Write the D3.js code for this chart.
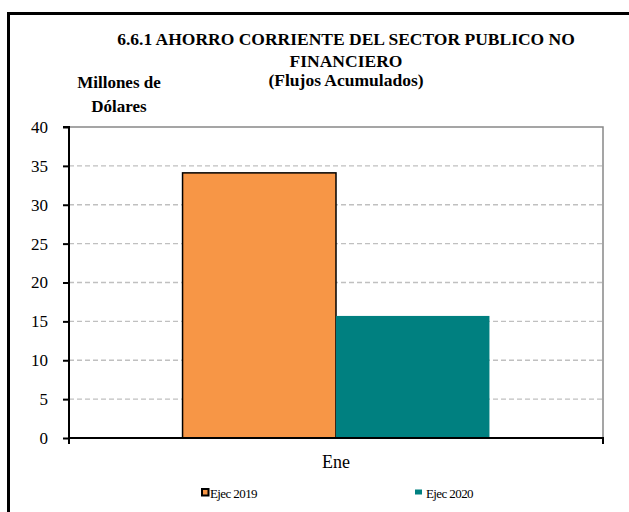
<!DOCTYPE html>
<html><head><meta charset="utf-8">
<script src="https://cdn.jsdelivr.net/npm/d3@7"></script>
<style>body{margin:0;background:#fff}svg{display:block}
svg text{font-family:"Liberation Serif","Times New Roman",serif !important;}</style>
</head><body>
<script>
const categories = ["Ene"];
const seriesNames = ["Ejec 2019", "Ejec 2020"];
const ejec2019 = [34.1];
const ejec2020 = [15.7];
const yTicks = [0, 5, 10, 15, 20, 25, 30, 35, 40];
const titleLines = ["6.6.1 AHORRO CORRIENTE DEL SECTOR PUBLICO NO", "FINANCIERO", "(Flujos Acumulados)"];
const yLabelLines = ["Millones de", "Dólares"];
const colors = ["#F79646", "#008080"];

const W = 629, H = 512;
const svg = d3.select("body").append("svg").attr("width", W).attr("height", H);

// outer frame
svg.append("rect").attr("x", 8.5).attr("y", 13.5).attr("width", W + 10).attr("height", H + 10)
  .attr("fill", "none").attr("stroke", "#000").attr("stroke-width", 3);

const pLeft = 69, pRight = 603, pTop = 127, pBottom = 438;
const y = d3.scaleLinear().domain([0, 40]).range([pBottom, pTop]);
const x = d3.scaleBand().domain(categories).range([pLeft, pRight]);
const inner = d3.scaleBand().domain(seriesNames).range([0, x.bandwidth()]).paddingInner(0).paddingOuter(0.74);

// gridlines
svg.append("g").selectAll("line").data(yTicks.filter(d => d > 0 && d < 40)).join("line")
  .attr("x1", pLeft).attr("x2", pRight).attr("y1", d => y(d)).attr("y2", d => y(d))
  .attr("stroke", "#c0c0c0").attr("stroke-width", 1.3).attr("stroke-dasharray", "5,3");

// plot border top/right
svg.append("path").attr("d", `M${pLeft},${pTop}H${pRight}V${pBottom}`).attr("fill", "none")
  .attr("stroke", "#888").attr("stroke-width", 1.5);

// bars
const data = categories.map((c, i) => ({c, vals: [ejec2019[i], ejec2020[i]]}));
const g = svg.append("g");
data.forEach(d => {
  d.vals.forEach((v, j) => {
    g.append("rect")
      .attr("x", x(d.c) + inner(seriesNames[j]))
      .attr("y", y(v))
      .attr("width", inner.bandwidth())
      .attr("height", y(0) - y(v))
      .attr("fill", colors[j])
      .attr("stroke", j === 0 ? "#000" : "none")
      .attr("stroke-width", 1.5);
  });
});

// y axis
const yAxis = d3.axisLeft(y).tickValues(yTicks).tickSize(6).tickPadding(15);
const ya = svg.append("g").attr("transform", `translate(${pLeft},0)`).call(yAxis);
ya.select(".domain").attr("stroke", "#000").attr("stroke-width", 2).attr("d", `M-6,${pTop}H0V${pBottom + 6}`);
ya.selectAll(".tick line").attr("stroke", "#000").attr("stroke-width", 2);
ya.selectAll("text").attr("font-size", 17).attr("fill", "#000");

// x axis
const xa = svg.append("g").attr("transform", `translate(0,${pBottom})`).call(d3.axisBottom(x).tickSize(0).tickPadding(17));
xa.select(".domain").attr("stroke", "#000").attr("stroke-width", 2).attr("d", `M${pLeft},0H${pRight}V6`);
xa.selectAll("text").attr("font-size", 18).attr("fill", "#000");

// title
const cx = 346;
[45, 67, 86].forEach((yy, i) => {
  svg.append("text").attr("x", cx).attr("y", yy).attr("text-anchor", "middle")
    .attr("font-weight", "bold").attr("font-size", 17.5)
    .text(titleLines[i]);
});
// y label
[88, 112].forEach((yy, i) => {
  svg.append("text").attr("x", 119).attr("y", yy).attr("text-anchor", "middle")
    .attr("font-weight", "bold").attr("font-size", 17)
    .text(yLabelLines[i]);
});

// legend
const legX = [201, 415];
seriesNames.forEach((s, i) => {
  const lg = svg.append("g");
  if (i === 0) {
    lg.append("rect").attr("x", legX[i] + 1).attr("y", 489).attr("width", 6.5).attr("height", 6.5)
      .attr("fill", colors[i]).attr("stroke", "#000").attr("stroke-width", 2);
  } else {
    lg.append("rect").attr("x", legX[i]).attr("y", 489.5).attr("width", 7).attr("height", 5).attr("fill", colors[i]);
  }
  lg.append("text").attr("x", legX[i] + (i === 0 ? 9 : 11)).attr("y", 497.5).attr("font-size", 13)
    .attr("letter-spacing", -0.6).text(s);
});
</script>
</body></html>
